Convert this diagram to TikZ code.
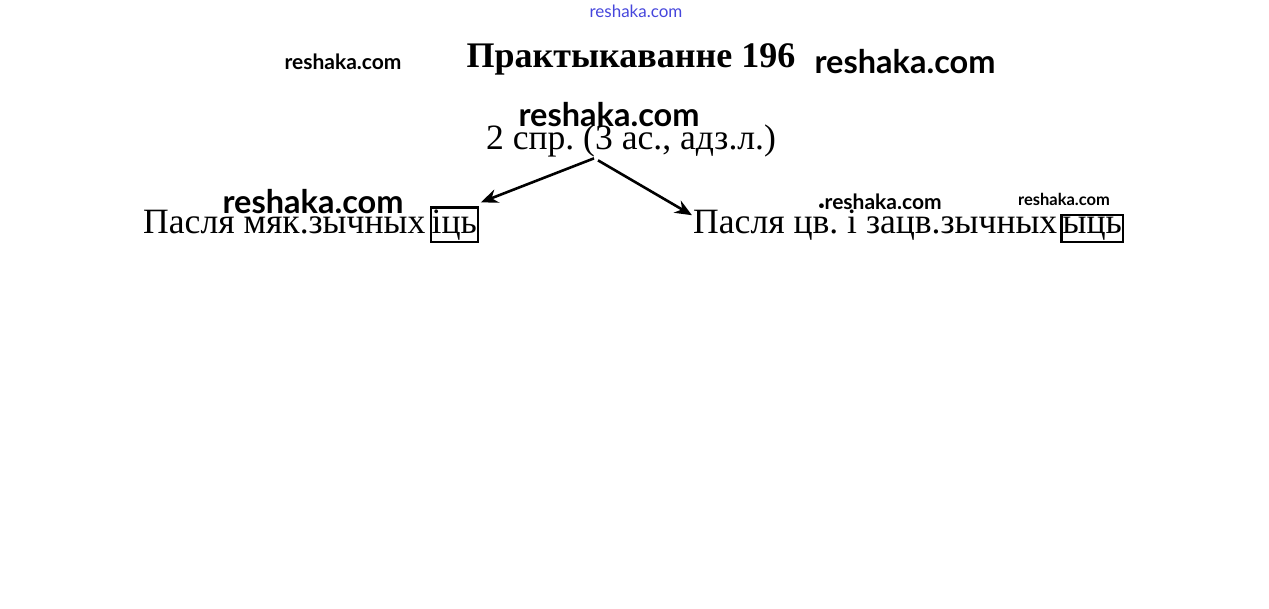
\documentclass[tikz,border=0pt]{standalone}
\usepackage{fontspec}
\setmainfont{Liberation Serif}
\newfontfamily\wmfont{Lato}
\usetikzlibrary{arrows.meta, positioning}
\frenchspacing

\definecolor{wmblue}{RGB}{70,70,220}

\begin{document}
\begin{tikzpicture}[x=1pt, y=-1pt, >={Stealth[length=17pt,width=14pt]},
  txt/.style={font=\fontsize{35.6}{40}\selectfont, inner sep=0pt},
  endbox/.style={txt, draw, line width=2.2pt, inner xsep=1pt, inner ysep=2pt},
  wm/.style={font=\wmfont\bfseries\fontsize{#1}{#1}\selectfont, inner sep=0pt}]
  \useasboundingbox (0,0) rectangle (1269,608);
  % title and the rule
  \node[txt, font=\bfseries\fontsize{36}{40}\selectfont] (title) at (631,59) {Практыкаванне 196};
  \node[txt] (root) at (631,141) {2 спр. (3 ас., адз.л.)};
  % two cases
  \node[txt, anchor=base west] (lsl) at (143,233) {Пасля мяк.зычных};
  \node[endbox, base right=4pt of lsl] (lend) {іць};
  \node[txt, anchor=base west] (rsl) at (693,233) {Пасля цв. і зацв.зычных};
  \node[endbox, base right=3pt of rsl] (rend) {ыць};
  \draw[->, line width=2.6pt] ([xshift=-37pt,yshift=-1pt]root.south) -- ([xshift=2pt,yshift=4pt]lend.north east);
  \draw[->, line width=2.6pt] ([xshift=-33pt,yshift=-3pt]root.south) -- ([xshift=-1pt,yshift=-6pt]rsl.north west);
  % watermarks
  \node[wm=21] (w1) at (343,62) {reshaka.com};
  \node[wm=32.5] (w2) at (905,62) {reshaka.com};
  \node[wm=32.5] (w3) at (609,115) {reshaka.com};
  \node[wm=32.5] (w4) at (313,202) {reshaka.com};
  \node[wm=21] (w5) at (880,202) {{\fontsize{11}{11}\selectfont•}reshaka.com};
  \node[wm=16.5] (w6) at (1064,199) {reshaka.com};
  \node[font=\wmfont\fontsize{17}{17}\selectfont, text=wmblue, inner sep=0pt] (w7) at (636,11) {reshaka.com};
\end{tikzpicture}
\end{document}
